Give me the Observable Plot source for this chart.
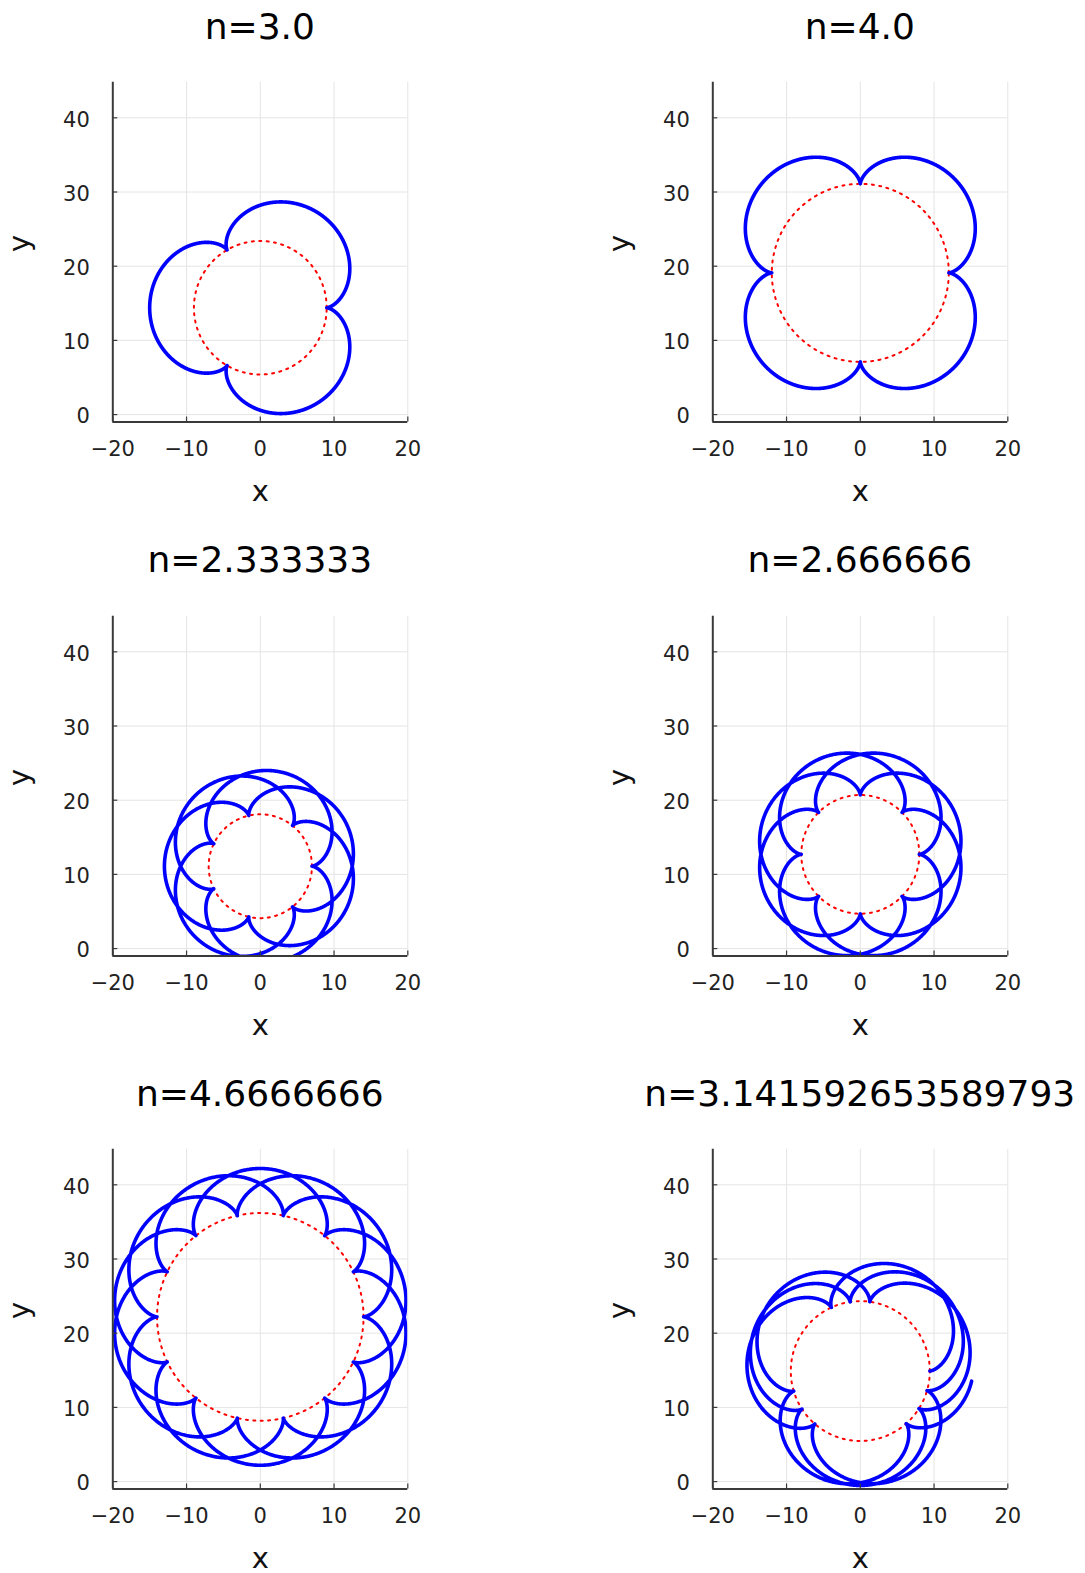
<!DOCTYPE html>
<html>
<head>
<meta charset="utf-8">
<script src="https://cdn.jsdelivr.net/npm/d3@7"></script>
<script src="https://cdn.jsdelivr.net/npm/@observablehq/plot@0.6"></script>
<style>
  body { margin: 0; background: #fff; }
  #fig { position: relative; width: 1085px; height: 1573px; overflow: hidden; font-family: "DejaVu Sans", sans-serif; }
  .panel { position: absolute; width: 540px; height: 534px; }
  .panel svg { position: absolute; left: 0; top: 0; overflow: visible; }
  .title { position: absolute; top: 8.5px; font-size: 36px; line-height: 36px; white-space: nowrap; transform: translateX(-50%); color: #000; }
</style>
</head>
<body>
<div id="fig"></div>
<script>
// Epicycloids: a circle of radius `rolling` rolls round a fixed circle of radius n * rolling.
const titles = ["n=3.0", "n=4.0", "n=2.333333", "n=2.666666", "n=4.6666666", "n=3.141592653589793"];
const ratios = [3.0, 4.0, 2.333333, 2.666666, 4.6666666, Math.PI];
const centerY = [14.4, 19.1, 11.1, 12.7, 22.2, 14.9];   // centre of the fixed circle, at x = 0
const rolling = 3;
const turns = 3;                                          // parameter runs over 0 … 2π·turns
const xTicks = [-20, -10, 0, 10, 20];
const yTicks = [0, 10, 20, 30, 40];
const xDomain = [-20, 20];
const yDomain = [-1, 44.8];

// panel geometry (pixels)
const W = 440, H = 510;
const frameLeft = 112.3, frameRight = 407.3, frameTop = 81.7, frameBottom = 421.5;
const colStep = 600, rowStep = 533.5;

function epicycloid(n, r, cy) {
  const R = n * r, k = R + r;
  const tEnd = turns * 2 * Math.PI;
  const ts = d3.range(0, tEnd, 0.004);
  ts.push(tEnd);
  return ts.map(t => ({
    x: k * Math.cos(t) - r * Math.cos((k / r) * t),
    y: cy + k * Math.sin(t) - r * Math.sin((k / r) * t)
  }));
}

function fixedCircle(R, cy) {
  const ts = d3.range(0, 2 * Math.PI, 0.005);
  ts.push(2 * Math.PI);
  return ts.map(t => ({ x: R * Math.cos(t), y: cy + R * Math.sin(t) }));
}

const tickText = d => (d < 0 ? "\u2212" + Math.abs(d) : String(d));
const fig = document.getElementById("fig");
const frameW = frameRight - frameLeft, frameH = frameBottom - frameTop;

ratios.forEach((n, i) => {
  const col = i % 2, row = Math.floor(i / 2);
  const panel = document.createElement("div");
  panel.className = "panel";
  panel.style.left = (col * colStep) + "px";
  panel.style.top = (row * rowStep) + "px";

  const curve = epicycloid(n, rolling, centerY[i]);
  const base = fixedCircle(n * rolling, centerY[i]);

  const chart = Plot.plot({
    width: W,
    height: H,
    marginLeft: frameLeft,
    marginRight: W - frameRight,
    marginTop: frameTop,
    marginBottom: H - frameBottom,
    x: { domain: xDomain, axis: null },
    y: { domain: yDomain, axis: null },
    style: { fontFamily: "DejaVu Sans, sans-serif", background: "transparent", color: "#222" },
    marks: [
      Plot.ruleX(xTicks, { stroke: "#e4e4e4", strokeWidth: 1 }),
      Plot.ruleY(yTicks, { stroke: "#e4e4e4", strokeWidth: 1 }),
      Plot.line(base, { x: "x", y: "y", stroke: "#ff0000", strokeWidth: 2, strokeDasharray: "2,5.4", clip: true }),
      Plot.line(curve, { x: "x", y: "y", stroke: "#0000ff", strokeWidth: 3.6, clip: true }),
      Plot.ruleX([xDomain[0]], { stroke: "#3a3a3a", strokeWidth: 2 }),
      Plot.ruleY([yDomain[0]], { stroke: "#3a3a3a", strokeWidth: 2 }),
      Plot.ruleX(xTicks, { insetTop: frameH - 5, stroke: "#3a3a3a", strokeWidth: 1.2 }),
      Plot.ruleY(yTicks, { insetRight: frameW - 5, stroke: "#3a3a3a", strokeWidth: 1.2 }),
      Plot.text(xTicks, { x: d => d, text: tickText, frameAnchor: "bottom", dy: 34, fontSize: 21, fill: "#222" }),
      Plot.text(yTicks, { y: d => d, text: tickText, frameAnchor: "left", dx: -23, dy: 2, textAnchor: "end", fontSize: 21, fill: "#222" }),
      Plot.text(["x"], { text: d => d, frameAnchor: "bottom", dy: 79, fontSize: 29, fill: "#111" }),
      Plot.text(["y"], { text: d => d, frameAnchor: "left", dx: -93, rotate: -90, fontSize: 29, fill: "#111" })
    ]
  });
  panel.appendChild(chart);

  const title = document.createElement("div");
  title.className = "title";
  title.style.left = ((frameLeft + frameRight) / 2) + "px";
  title.textContent = titles[i];
  panel.appendChild(title);

  fig.appendChild(panel);
});
</script>
</body>
</html>
